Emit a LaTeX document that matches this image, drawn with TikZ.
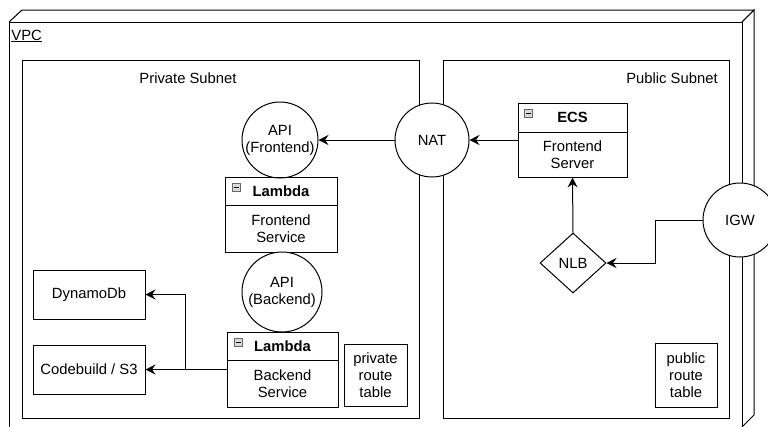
\documentclass[tikz,border=0pt]{standalone}
\usepackage{fontspec}
\setmainfont{Liberation Sans}
\usetikzlibrary{arrows.meta,shapes.geometric}
\begin{document}
\begin{tikzpicture}[x=1pt,y=-1pt,
  font=\fontsize{14.8}{17}\selectfont, line width=1pt,
  box/.style={draw, inner sep=0pt, align=center},
  circ/.style={draw, circle, fill=white, inner sep=0pt, align=center},
  arr/.style={-{Stealth[length=10pt,width=10pt,inset=3.5pt]}},
  icon/.style={draw=gray!80!black, fill=gray!30, line width=0.6pt, minimum size=8pt, inner sep=0pt}]
\useasboundingbox (0,0) rectangle (768,426);
\clip (0,0) rectangle (768,426);
% VPC cube
\draw (9,22) -- (22,10) -- (754,10) -- (742,22);
\draw (742,22) -- (754,10) -- (754,415) -- (742,427);
\draw (9,430) -- (9,22) -- (742,22) -- (742,430);
\node[anchor=west, inner sep=0pt] (vpc) at (11,36) {\underline{VPC}};
% subnets
\node[box, minimum width=397pt, minimum height=358pt] (priv) at (220.5,239) {};
\node (privl) at (188,78) {Private Subnet};
\node[box, minimum width=286pt, minimum height=358pt] (pub) at (586,239) {};
\node (publ) at (672,78) {Public Subnet};
% private side
\node[circ, minimum size=76pt] (apif) at (280,140) {API\\(Frontend)};
\node[box, minimum width=112pt, minimum height=75pt] (lf) at (281,214.5) {};
\draw (lf.west |- 0,205) -- (lf.east |- 0,205);
\node[icon] (lfi) at (236,187.5) {};
\draw[line width=0.8pt] (233.5,187.5) -- (238.5,187.5);
\node[font=\fontsize{14.8}{17}\selectfont\bfseries] (lft) at (281,191) {Lambda};
\node[align=center] (lfb) at (281,228.5) {Frontend\\Service};
\node[circ, minimum size=80pt] (apib) at (282,292) {API\\(Backend)};
\node[box, minimum width=111pt, minimum height=75pt] (lb) at (282.5,369.5) {};
\draw (lb.west |- 0,360) -- (lb.east |- 0,360);
\node[icon] (lbi) at (238,342.5) {};
\draw[line width=0.8pt] (235.5,342.5) -- (240.5,342.5);
\node[font=\fontsize{14.8}{17}\selectfont\bfseries] (lbt) at (282.5,346) {Lambda};
\node[align=center] (lbb) at (282.5,383.5) {Backend\\Service};
\node[box, minimum width=63pt, minimum height=62pt] (prt) at (375.5,375) {private\\route\\table};
\node[box, minimum width=112pt, minimum height=49pt] (ddb) at (89,294.5) {DynamoDb};
\node[box, minimum width=112pt, minimum height=49pt] (cb) at (89,369.5) {Codebuild / S3};
\coordinate (j) at (185,369.5);
\draw[arr] (lb.west) -- (cb.east);
\draw[arr] (j) |- (ddb.east);
% NAT
\node[circ, minimum size=74pt] (nat) at (432,140) {NAT};
% public side
\node[box, minimum width=109pt, minimum height=74pt] (ecs) at (572.5,140) {};
\draw (ecs.west |- 0,132) -- (ecs.east |- 0,132);
\node[icon] (ecsi) at (528,113.5) {};
\draw[line width=0.8pt] (525.5,113.5) -- (530.5,113.5);
\node[font=\fontsize{14.8}{17}\selectfont\bfseries] (ecst) at (572.5,117.5) {ECS};
\node[align=center] (ecsb) at (572.5,154.5) {Frontend\\Server};
\node[draw, diamond, fill=white, inner sep=0pt, minimum width=66pt, minimum height=60pt, aspect=1.1] (nlb) at (573,263) {NLB};
\node[circ, minimum size=74pt] (igw) at (740,220) {IGW};
\node[box, minimum width=62pt, minimum height=64pt] (purt) at (686,375) {public\\route\\table};
\coordinate (b) at (655,220);
% arrows
\draw[arr] (ecs.west) -- (nat.east);
\draw[arr] (nat.west) -- (apif.east);
\draw[arr] (nlb.north) -- (ecs.south);
\draw[arr] (igw.west) -- (b) |- (nlb.east);
\end{tikzpicture}
\end{document}
